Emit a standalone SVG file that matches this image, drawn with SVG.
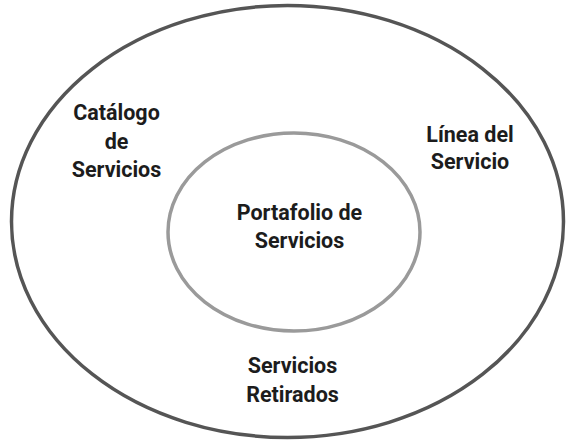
<svg xmlns="http://www.w3.org/2000/svg" width="566" height="441" viewBox="0 0 566 441">
<style>
.lbl{font-family:Roboto,"Liberation Sans",Arial,sans-serif;font-weight:700;font-size:21.5px;fill:#1c1c1c;text-anchor:middle}
.outer{fill:none;stroke:#555555;stroke-width:3.5}
.inner{fill:none;stroke:#9a9a9a;stroke-width:3.5}
</style>
<rect width="566" height="441" fill="#ffffff"/>
<g id="servicios-retirados-area">
<ellipse class="outer" cx="287.5" cy="221.5" rx="276" ry="216"/>
</g>
<g id="portafolio">
<ellipse class="inner" cx="294" cy="232" rx="126" ry="99"/>
<text class="lbl" x="299.5" y="220">Portafolio de</text>
<text class="lbl" x="299.5" y="248">Servicios</text>
</g>
<g id="catalogo">
<text class="lbl" x="116.5" y="120">Catálogo</text>
<text class="lbl" x="116.5" y="149">de</text>
<text class="lbl" x="116.5" y="177">Servicios</text>
</g>
<g id="linea">
<text class="lbl" x="470" y="142">Línea del</text>
<text class="lbl" x="470" y="169">Servicio</text>
</g>
<g id="retirados">
<text class="lbl" x="292.5" y="373">Servicios</text>
<text class="lbl" x="292.5" y="402">Retirados</text>
</g>
<g id="connectors"></g>
</svg>
